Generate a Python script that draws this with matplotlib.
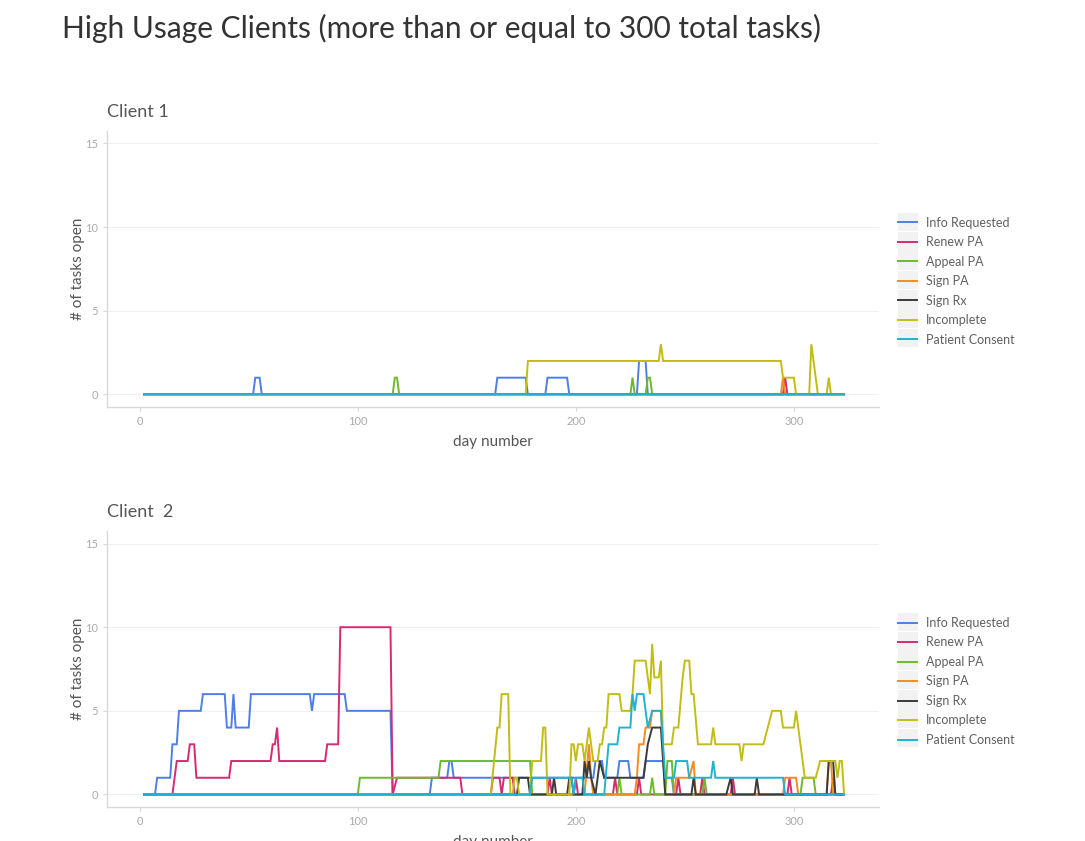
import matplotlib.pyplot as plt
from matplotlib.patches import Rectangle
import numpy as np

plt.rcParams['font.family'] = ['Lato', 'DejaVu Sans']

series_names = ['Info Requested', 'Renew PA', 'Appeal PA', 'Sign PA',
                'Sign Rx', 'Incomplete', 'Patient Consent']
series_colors = ['#4d7fe6', '#d62a72', '#6dbb2c', '#f28c1e',
                 '#3b3b3b', '#c2bd15', '#21b2cf']

# (day, open tasks) vertices
c1_info = [(2, 0), (52, 0), (53, 1), (55, 1), (56, 0), (163, 0), (164, 1), (177, 1),
           (178, 0), (186, 0), (187, 1), (196, 1), (197, 0), (228, 0), (229, 2),
           (232, 2), (233, 0), (323, 0)]
c1_renew = [(2, 0), (295, 0), (296, 1), (297, 0), (323, 0)]
c1_appeal = [(2, 0), (116, 0), (117, 1), (118, 1), (119, 0), (225, 0), (226, 1),
             (227, 0), (232, 0), (233, 1), (234, 1), (235, 0), (323, 0)]
c1_signpa = [(2, 0), (294, 0), (295, 1), (296, 0), (323, 0)]
c1_signrx = [(2, 0), (323, 0)]
c1_incomplete = [(2, 0), (177, 0), (178, 2), (238, 2), (239, 3), (240, 2), (294, 2),
                 (295, 1), (300, 1), (301, 0), (307, 0), (308, 3), (311, 0),
                 (315, 0), (316, 1), (317, 0), (323, 0)]
c1_consent = [(2, 0), (323, 0)]

c2_info = [(2, 0), (7, 0), (8, 1), (14, 1), (15, 3), (17, 3), (18, 5), (28, 5),
           (29, 6), (39, 6), (40, 4), (42, 4), (43, 6), (44, 4), (50, 4), (51, 6),
           (78, 6), (79, 5), (80, 6), (94, 6), (95, 5), (115, 5), (116, 0),
           (133, 0), (134, 1), (141, 1), (142, 2), (143, 2), (144, 1), (208, 1),
           (209, 2), (212, 2), (213, 1), (219, 1), (220, 2), (224, 2), (225, 1),
           (231, 1), (232, 2), (240, 2), (241, 1), (244, 1), (245, 0), (323, 0)]
c2_renew = [(2, 0), (15, 0), (17, 2), (22, 2), (23, 3), (25, 3), (26, 1), (41, 1),
            (42, 2), (60, 2), (61, 3), (62, 3), (63, 4), (64, 2), (85, 2), (86, 3),
            (91, 3), (92, 10), (115, 10), (116, 0), (118, 1), (147, 1), (148, 0),
            (161, 0), (162, 1), (165, 1), (166, 0), (167, 1), (171, 1), (172, 0),
            (187, 0), (188, 1), (189, 0), (199, 0), (200, 1), (201, 0), (217, 0),
            (218, 1), (219, 0), (228, 0), (229, 1), (230, 0), (246, 0), (247, 1),
            (248, 0), (257, 0), (258, 1), (259, 0), (271, 0), (272, 1), (273, 0),
            (297, 0), (298, 1), (299, 0), (317, 0), (318, 1), (319, 0), (323, 0)]
c2_appeal = [(2, 0), (100, 0), (101, 1), (137, 1), (138, 2), (179, 2), (180, 0),
             (219, 0), (220, 1), (221, 0), (234, 0), (235, 1), (236, 0), (241, 0),
             (242, 2), (244, 2), (245, 0), (258, 0), (259, 1), (260, 0), (303, 0),
             (304, 1), (309, 1), (310, 0), (323, 0)]
c2_signpa = [(2, 0), (204, 0), (206, 3), (207, 1), (208, 0), (227, 0), (228, 1),
             (229, 3), (231, 3), (232, 4), (234, 4), (235, 5), (239, 5), (241, 0),
             (245, 0), (246, 1), (252, 1), (254, 2), (255, 0), (295, 0), (296, 1),
             (301, 1), (302, 0), (315, 0), (316, 2), (317, 2), (318, 0), (323, 0)]
c2_signrx = [(2, 0), (173, 0), (174, 1), (178, 1), (179, 0), (189, 0), (190, 1),
             (191, 0), (196, 0), (197, 1), (198, 1), (199, 0), (203, 0), (204, 2),
             (205, 1), (206, 2), (207, 1), (209, 0), (211, 2), (213, 1), (231, 1),
             (233, 3), (235, 4), (239, 4), (241, 0), (253, 0), (254, 1), (255, 0),
             (269, 0), (271, 1), (272, 0), (282, 0), (283, 1), (284, 0), (315, 0),
             (316, 2), (318, 2), (319, 0), (323, 0)]
c2_incomplete = [(2, 0), (161, 0), (164, 4), (165, 4), (166, 6), (169, 6), (170, 0),
                 (171, 0), (172, 1), (173, 1), (174, 0), (179, 0), (180, 2), (184, 2),
                 (185, 4), (186, 4), (187, 0), (197, 0), (198, 3), (199, 3), (200, 2),
                 (201, 3), (203, 3), (204, 2), (206, 4), (208, 2), (210, 2), (211, 3),
                 (212, 3), (213, 4), (214, 4), (215, 6), (220, 6), (221, 5), (225, 5),
                 (226, 6), (227, 8), (232, 8), (234, 6), (235, 9), (236, 7), (238, 7),
                 (239, 8), (240, 3), (244, 3), (245, 4), (247, 4), (249, 7), (250, 8),
                 (252, 8), (253, 6), (254, 6), (256, 3), (262, 3), (263, 4), (264, 3),
                 (275, 3), (276, 2), (277, 3), (286, 3), (288, 4), (290, 5), (294, 5),
                 (295, 4), (300, 4), (301, 5), (303, 3), (305, 1), (310, 1), (312, 2),
                 (319, 2), (320, 1), (321, 2), (322, 2), (323, 0)]
c2_consent = [(2, 0), (179, 0), (180, 1), (198, 1), (199, 0), (200, 1), (203, 1),
              (204, 0), (213, 0), (215, 3), (219, 3), (220, 4), (225, 4), (226, 6),
              (227, 5), (228, 6), (231, 6), (233, 4), (235, 5), (239, 5), (241, 1),
              (245, 1), (246, 2), (251, 2), (252, 1), (262, 1), (263, 2), (264, 1),
              (295, 1), (296, 0), (323, 0)]

client1 = [c1_info, c1_renew, c1_appeal, c1_signpa, c1_signrx, c1_incomplete, c1_consent]
client2 = [c2_info, c2_renew, c2_appeal, c2_signpa, c2_signrx, c2_incomplete, c2_consent]

W, H = 1085, 841
fig = plt.figure(figsize=(W / 100, H / 100), dpi=100)
fig.text(0.057, 0.966, 'High Usage Clients (more than or equal to 300 total tasks)',
         fontsize=21.5, color='#333333', va='center', ha='left')

axes_pos = [[0.0986, 0.5161, 0.7115, 0.3282], [0.0986, 0.0404, 0.7115, 0.3282]]
titles = ['Client 1', 'Client  2']
legend_top = [222, 622]  # pixel y of the first legend key

for pos, title, client, ly in zip(axes_pos, titles, [client1, client2], legend_top):
    ax = fig.add_axes(pos)
    for name, color, pts in zip(series_names, series_colors, client):
        pts = np.array(pts)
        ax.plot(pts[:, 0], pts[:, 1], color=color, lw=1.4, label=name,
                solid_joinstyle='miter')
    ax.set_xlim(-15, 339)
    ax.set_ylim(-0.75, 15.75)
    ax.set_xticks([0, 100, 200, 300])
    ax.set_yticks([0, 5, 10, 15])
    ax.grid(axis='y', color='#f0f0f0', lw=0.8)
    ax.set_axisbelow(True)
    for s in ['top', 'right']:
        ax.spines[s].set_visible(False)
    for s in ['left', 'bottom']:
        ax.spines[s].set_color('#d9d9d9')
        ax.spines[s].set_linewidth(1.0)
    ax.tick_params(colors='#d9d9d9', labelcolor='#aaaaaa', labelsize=8, length=3)
    ax.set_xlabel('day number', fontsize=11, color='#555555', labelpad=6)
    ax.set_ylabel('# of tasks open', fontsize=11, color='#555555', labelpad=0)
    ax.set_title(title, loc='left', fontsize=13, color='#555555', pad=10)
    # grey legend key backgrounds, ggplot style
    for i in range(len(series_names)):
        yc = ly + i * 19.35
        fig.add_artist(Rectangle((898 / W, 1 - (yc + 9.3) / H), 20 / W, 18.6 / H,
                                 transform=fig.transFigure, color='#f2f2f2',
                                 zorder=-1, lw=0))
    ax.legend(loc='center left', bbox_to_anchor=(1.01, 0.455), frameon=False,
              fontsize=9, handlelength=1.5, labelspacing=0.6,
              handletextpad=0.75, labelcolor='#606060')

plt.savefig('out.png', dpi=100)
